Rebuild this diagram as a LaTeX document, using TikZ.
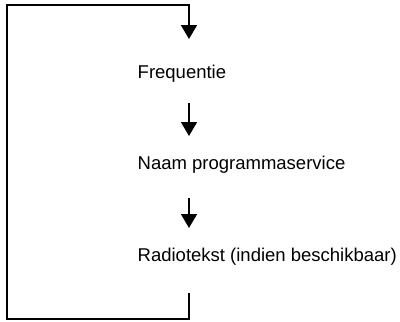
\documentclass[tikz,border=0pt]{standalone}
\usepackage{fontspec}
\setmainfont{Liberation Sans}
\usetikzlibrary{arrows.meta}
\begin{document}
\begin{tikzpicture}[x=1pt,y=-1pt,
  arr/.style={line width=1.7pt,-{Triangle[length=14pt,width=16pt]}},
  lbl/.style={anchor=base west,inner sep=0pt,font=\fontsize{18.5pt}{22pt}\selectfont}]
\useasboundingbox (0,0) rectangle (400,322);
\node[lbl] (f) at (137.5,78) {Frequentie};
\node[lbl] (n) at (137.5,169) {Naam programmaservice};
\node[lbl] (r) at (137.5,261) {Radiotekst (indien beschikbaar)};
\coordinate (ls) at (189,293);
\coordinate (lb) at (189,319);
\coordinate (lbl0) at (7,319);
\coordinate (ltl) at (7,5);
\coordinate (ltr) at (189,5);
\coordinate (lt) at (189,39);
\coordinate (a1s) at (189,103);
\coordinate (a1e) at (189,136);
\coordinate (a2s) at (189,198);
\coordinate (a2e) at (189,228);
\draw[arr] (ls) -- (lb) -- (lbl0) -- (ltl) -- (ltr) -- (lt);
\draw[arr] (a1s) -- (a1e);
\draw[arr] (a2s) -- (a2e);
\end{tikzpicture}
\end{document}
